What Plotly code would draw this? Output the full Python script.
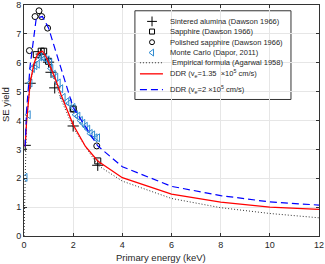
import plotly.graph_objects as go

# Data
sint_E = [0.05, 0.25, 0.7, 1.0, 1.1, 1.25, 2.0, 3.0]
sint_y = [3.14, 5.29, 6.3, 6.02, 5.67, 5.13, 3.81, 2.45]

sapph_E = [0.5, 0.7, 0.8, 1.0, 2.0, 3.0]
sapph_y = [6.28, 6.4, 6.4, 6.05, 4.4, 2.6]

pol_E = [0.22, 0.45, 0.61, 0.72, 0.96, 2.0, 2.96]
pol_y = [6.42, 7.6, 7.8, 7.6, 7.2, 4.4, 3.12]

mc_E = [0.05, 0.18, 0.25, 0.35, 0.45, 0.55, 0.65, 0.75, 0.85, 0.95, 1.05, 1.1, 1.2, 1.3, 1.4, 1.5, 1.6, 1.75, 1.85, 2.0, 2.1, 2.2, 2.3, 2.4, 2.5, 2.6, 2.7, 2.8, 2.9, 3.0]
mc_y = [2.03, 4.2, 5.3, 5.8, 5.9, 5.95, 6.2, 6.2, 6.15, 6.1, 6.0, 5.8, 5.6, 5.5, 5.3, 5.1, 4.8, 4.65, 4.6, 4.45, 4.2, 4.15, 4.0, 3.9, 3.8, 3.7, 3.55, 3.5, 3.4, 3.4]

emp_E = [0, 0.1, 0.25, 0.5, 0.75, 1.0, 1.5, 2.0, 3.0, 4.0, 6.0, 8.0, 10.0, 12.0]
emp_y = [0, 4.0, 5.3, 6.15, 6.3, 6.0, 4.75, 3.75, 2.45, 1.9, 1.3, 0.98, 0.78, 0.63]

red_E = [0.05, 0.1, 0.25, 0.4, 0.5, 0.6, 0.75, 0.9, 1.0, 1.25, 1.5, 2.0, 2.5, 3.0, 4.0, 6.0, 8.0, 10.0, 12.0]
red_y = [3.1, 3.9, 5.3, 5.95, 6.2, 6.35, 6.4, 6.2, 6.0, 5.5, 4.9, 3.85, 3.1, 2.6, 2.02, 1.45, 1.17, 1.0, 0.92]

blue_E = [0.05, 0.1, 0.25, 0.5, 0.75, 1.0, 2.0, 3.0, 4.0, 6.0, 8.0, 10.0, 12.0]
blue_y = [3.1, 4.3, 5.9, 7.55, 7.6, 7.2, 4.45, 3.12, 2.4, 1.72, 1.4, 1.18, 1.07]

xticks = [0, 2, 4, 6, 8, 10, 12]
yticks = [0, 1, 2, 3, 4, 5, 6, 7, 8]

names = ["Sintered alumina (Dawson 1966)",
         "Sapphire (Dawson 1966)",
         "Polished sapphire (Dawson 1966)",
         "Monte Carlo (Dapor, 2011)",
         " Empirical formula (Agarwal 1958)",
         "DDR (v<sub>e</sub>=1.35  ×10<sup>5</sup> cm/s)",
         "DDR (v<sub>e</sub>=2 ×10<sup>5</sup> cm/s)"]

FONT = "Liberation Sans, Arial, sans-serif"
TXT = "#262626"
MC_COLOR = "#2e8bd0"

styles = [
    dict(mode="markers", marker=dict(symbol="cross-thin", size=8, color="black", line=dict(color="black", width=1))),
    dict(mode="markers", marker=dict(symbol="square-open", size=6, color="black", line=dict(width=1))),
    dict(mode="markers", marker=dict(symbol="circle-open", size=6, color="black", line=dict(width=1))),
    dict(mode="markers", marker=dict(symbol="triangle-left-open", size=7, color=MC_COLOR, line=dict(width=1))),
    dict(mode="lines", line=dict(color="#333333", width=1, dash="1px,2px")),
    dict(mode="lines", line=dict(color="red", width=1.3)),
    dict(mode="lines", line=dict(color="blue", width=1.2, dash="7px,4px")),
]
series = [(sint_E, sint_y), (sapph_E, sapph_y), (pol_E, pol_y), (mc_E, mc_y),
          (emp_E, emp_y), (red_E, red_y), (blue_E, blue_y)]

fig = go.Figure()
for (xs, ys), st, nm in zip(series, styles, names):
    fig.add_trace(go.Scatter(x=xs, y=ys, name=nm, showlegend=False, cliponaxis=True, **st))

# Manual legend (compact, MATLAB-like) on an overlay axis with 0..1 range
leg_rows = [0.929, 0.885, 0.839, 0.794, 0.750, 0.702, 0.634]
leg_mark_x = 0.434
leg_line_x = [0.393, 0.471]
leg_text_x = 0.488

fig.add_shape(type="rect", xref="x domain", yref="y domain", x0=0.376, x1=0.905, y0=0.591, y1=0.975,
              line=dict(color="#333333", width=1), fillcolor="white", layer="below")

small_marker = [
    dict(symbol="cross-thin", size=7, color="black", line=dict(color="black", width=1)),
    dict(symbol="square-open", size=5, color="black", line=dict(width=1)),
    dict(symbol="circle-open", size=5, color="black", line=dict(width=1)),
    dict(symbol="triangle-left-open", size=6, color=MC_COLOR, line=dict(width=1)),
]
for i, st in enumerate(styles):
    yrow = leg_rows[i]
    if st["mode"] == "markers":
        fig.add_trace(go.Scatter(x=[leg_mark_x], y=[yrow], mode="markers", marker=small_marker[i],
                                 xaxis="x2", yaxis="y2", showlegend=False, hoverinfo="skip"))
    else:
        fig.add_trace(go.Scatter(x=leg_line_x, y=[yrow, yrow], mode="lines", line=st["line"],
                                 xaxis="x2", yaxis="y2", showlegend=False, hoverinfo="skip"))
    fig.add_annotation(x=leg_text_x, y=yrow, xref="x domain", yref="y domain", text=names[i],
                       showarrow=False, xanchor="left", yanchor="middle",
                       font=dict(size=7.5, family=FONT, color=TXT))

axis_common = dict(showgrid=True, gridcolor="#e6e6e6", gridwidth=1, zeroline=False,
                   showline=True, linecolor="#333333", linewidth=1, mirror="ticks",
                   ticks="inside", ticklen=3, tickcolor="#333333", ticklabeloverflow="allow",
                   tickfont=dict(size=9, color=TXT, family=FONT))

fig.update_layout(
    width=325, height=264,
    margin=dict(l=24, r=6, t=5, b=28, autoexpand=False),
    paper_bgcolor="white", plot_bgcolor="white",
    font=dict(family=FONT, size=8, color=TXT),
    showlegend=False,
    xaxis=dict(range=[0, 12], tickvals=xticks, **axis_common),
    yaxis=dict(range=[0, 8], tickvals=yticks, **axis_common),
    xaxis2=dict(range=[0, 1], overlaying="x", visible=False),
    yaxis2=dict(range=[0, 1], overlaying="y", visible=False),
)

# Axis titles
fig.add_annotation(x=0.465, y=-0.094, xref="x domain", yref="y domain", text="Primary energy (keV)",
                   showarrow=False, xanchor="center", yanchor="middle",
                   font=dict(size=9.5, family=FONT, color=TXT))
fig.add_annotation(x=-0.062, y=0.57, xref="x domain", yref="y domain", text="SE yield",
                   showarrow=False, textangle=-90, xanchor="center", yanchor="middle",
                   font=dict(size=9.5, family=FONT, color=TXT))

fig.write_html("out.html", config={"displayModeBar": False},
               post_script="document.body.style.margin='0';document.body.style.overflow='hidden';")
